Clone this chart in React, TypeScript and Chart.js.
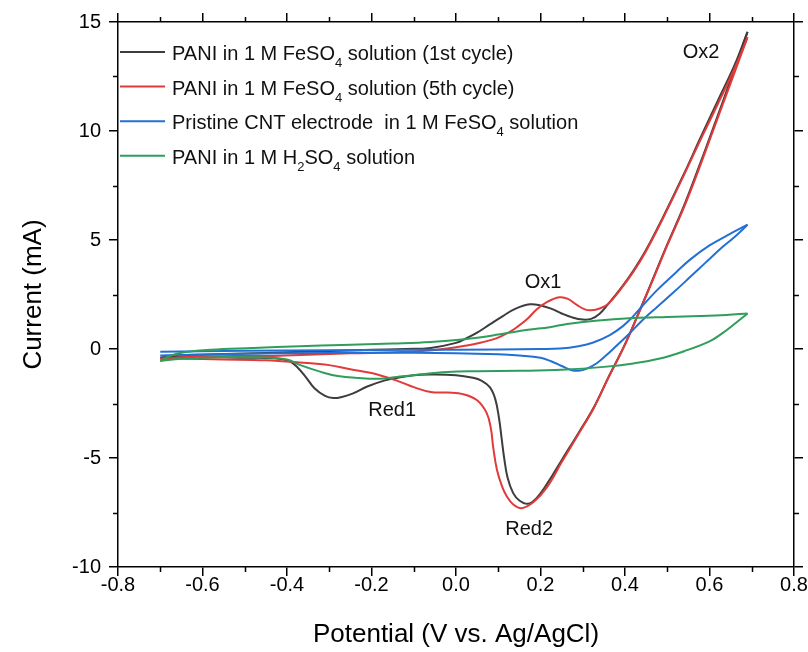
import React, { useEffect, useRef } from 'react';
import { Chart, registerables } from 'chart.js';

Chart.register(...registerables);

// ---------- data ----------
const xTickValues = [-0.8, -0.6, -0.4, -0.2, 0.0, 0.2, 0.4, 0.6, 0.8];
const yTickValues = [-10, -5, 0, 5, 10, 15];
const xMinorTicks = [-0.7, -0.5, -0.3, -0.1, 0.1, 0.3, 0.5, 0.7];
const yMinorTicks = [-7.5, -2.5, 2.5, 7.5, 12.5];

// PANI in FeSO4, 1st cycle (black)
const pani1Forward: [number, number][] = [
  [-0.70, -0.40], [-0.65, -0.30], [-0.60, -0.26], [-0.50, -0.21], [-0.40, -0.15],
  [-0.30, -0.09], [-0.20, -0.04], [-0.12, 0.0], [-0.06, 0.05], [0.0, 0.28],
  [0.025, 0.50], [0.05, 0.75], [0.08, 1.13], [0.11, 1.50], [0.14, 1.84],
  [0.175, 2.05], [0.20, 2.0], [0.225, 1.85], [0.25, 1.63], [0.275, 1.45],
  [0.30, 1.35], [0.32, 1.38], [0.34, 1.62], [0.36, 2.06], [0.39, 2.78],
  [0.42, 3.6], [0.45, 4.55], [0.49, 6.05], [0.54, 8.05], [0.58, 9.75],
  [0.62, 11.4], [0.66, 13.05], [0.69, 14.55],
];
const pani1Reverse: [number, number][] = [
  [0.69, 14.55], [0.65, 12.35], [0.61, 10.2], [0.57, 8.1], [0.537, 6.45],
  [0.50, 4.8], [0.47, 3.4], [0.435, 1.78], [0.40, 0.22], [0.36, -1.33],
  [0.325, -2.72], [0.29, -3.85], [0.25, -5.1], [0.215, -6.2], [0.19, -6.85],
  [0.17, -7.1], [0.15, -6.95], [0.135, -6.6], [0.122, -5.9], [0.114, -5.0],
  [0.108, -4.1], [0.102, -3.2], [0.093, -2.3], [0.08, -1.75], [0.06, -1.45],
  [0.04, -1.32], [0.0, -1.2], [-0.06, -1.17], [-0.10, -1.2], [-0.14, -1.33],
  [-0.17, -1.45], [-0.21, -1.72], [-0.245, -2.05], [-0.27, -2.2], [-0.29, -2.25],
  [-0.31, -2.15], [-0.335, -1.8], [-0.355, -1.3], [-0.375, -0.85], [-0.395, -0.55],
  [-0.43, -0.42], [-0.50, -0.40], [-0.60, -0.37], [-0.70, -0.40],
];

// PANI in FeSO4, 5th cycle (red)
const pani5Forward: [number, number][] = [
  [-0.70, -0.45], [-0.65, -0.38], [-0.60, -0.34], [-0.50, -0.32], [-0.447, -0.32],
  [-0.35, -0.26], [-0.25, -0.2], [-0.13, -0.14], [-0.05, -0.05], [0.026, 0.16],
  [0.06, 0.30], [0.097, 0.50], [0.125, 0.76], [0.144, 1.0], [0.17, 1.4],
  [0.19, 1.8], [0.215, 2.15], [0.245, 2.37], [0.265, 2.3], [0.286, 2.02],
  [0.305, 1.82], [0.32, 1.78], [0.34, 1.86], [0.36, 2.06], [0.39, 2.75],
  [0.42, 3.55], [0.45, 4.5], [0.49, 6.0], [0.54, 8.0], [0.58, 9.65],
  [0.62, 11.25], [0.66, 12.9], [0.69, 14.3],
];
const pani5Reverse: [number, number][] = [
  [0.69, 14.3], [0.65, 12.2], [0.61, 10.1], [0.57, 8.0], [0.537, 6.38],
  [0.50, 4.75], [0.47, 3.35], [0.435, 1.75], [0.40, 0.2], [0.36, -1.35],
  [0.325, -2.75], [0.29, -3.9], [0.25, -5.2], [0.215, -6.35], [0.185, -7.0],
  [0.156, -7.3], [0.135, -7.12], [0.12, -6.75], [0.109, -6.3], [0.097, -5.55],
  [0.088, -4.5], [0.083, -3.7], [0.073, -2.95], [0.05, -2.35], [0.017, -2.07],
  [-0.02, -2.0], [-0.06, -1.97], [-0.10, -1.75], [-0.14, -1.45], [-0.20, -1.1],
  [-0.25, -0.93], [-0.30, -0.74], [-0.37, -0.62], [-0.45, -0.52], [-0.55, -0.48],
  [-0.65, -0.45], [-0.70, -0.45],
];

// Pristine CNT in FeSO4 (blue)
const cntForward: [number, number][] = [
  [-0.70, -0.13], [-0.60, -0.1], [-0.50, -0.08], [-0.30, -0.06], [-0.10, -0.04],
  [0.10, -0.02], [0.20, 0.0], [0.246, 0.02], [0.29, 0.13], [0.325, 0.3],
  [0.364, 0.64], [0.395, 1.05], [0.417, 1.45], [0.44, 1.95], [0.476, 2.7],
  [0.52, 3.5], [0.554, 4.1], [0.60, 4.75], [0.641, 5.2], [0.69, 5.7],
];
const cntReverse: [number, number][] = [
  [0.69, 5.7], [0.66, 5.15], [0.632, 4.7], [0.59, 3.95], [0.554, 3.3],
  [0.515, 2.6], [0.476, 1.93], [0.44, 1.3], [0.41, 0.7], [0.38, 0.15],
  [0.355, -0.3], [0.334, -0.64], [0.31, -0.9], [0.29, -1.0], [0.272, -0.96],
  [0.25, -0.78], [0.225, -0.56], [0.20, -0.4], [0.15, -0.3], [0.10, -0.24],
  [0.0, -0.19], [-0.2, -0.17], [-0.4, -0.2], [-0.6, -0.25], [-0.70, -0.3],
];

// PANI in H2SO4 (green)
const h2so4Forward: [number, number][] = [
  [-0.70, -0.55], [-0.675, -0.3], [-0.64, -0.14], [-0.58, -0.03], [-0.48, 0.05],
  [-0.37, 0.13], [-0.27, 0.18], [-0.15, 0.25], [-0.06, 0.32], [0.02, 0.45],
  [0.10, 0.66], [0.17, 0.88], [0.222, 1.0], [0.263, 1.15], [0.33, 1.3],
  [0.419, 1.42], [0.50, 1.47], [0.578, 1.51], [0.64, 1.56], [0.69, 1.63],
];
const h2so4Reverse: [number, number][] = [
  [0.69, 1.63], [0.656, 1.1], [0.63, 0.72], [0.60, 0.35], [0.54, -0.1],
  [0.48, -0.45], [0.42, -0.66], [0.35, -0.82], [0.25, -0.95], [0.15, -1.0],
  [0.05, -1.02], [-0.02, -1.06], [-0.10, -1.2], [-0.14, -1.28], [-0.18, -1.36],
  [-0.23, -1.33], [-0.28, -1.24], [-0.32, -1.05], [-0.37, -0.73], [-0.40, -0.48],
  [-0.47, -0.38], [-0.55, -0.37], [-0.65, -0.45], [-0.70, -0.55],
];

type Seg = { t: string; sub?: boolean };
const seriesLabels: Seg[][] = [
  [{ t: 'PANI in 1 M FeSO' }, { t: '4', sub: true }, { t: ' solution (1st cycle)' }],
  [{ t: 'PANI in 1 M FeSO' }, { t: '4', sub: true }, { t: ' solution (5th cycle)' }],
  [{ t: 'Pristine CNT electrode  in 1 M FeSO' }, { t: '4', sub: true }, { t: ' solution' }],
  [{ t: 'PANI in 1 M H' }, { t: '2', sub: true }, { t: 'SO' }, { t: '4', sub: true }, { t: ' solution' }],
];
const seriesColors = ['#3d3d3d', '#e23a3a', '#2370d4', '#2f9e5c'];

const peakLabels = ['Ox2', 'Ox1', 'Red1', 'Red2'];
const peakLabelAnchors: [number, number][] = [
  [0.58, 13.62], [0.206, 3.07], [-0.151, -2.8], [0.173, -8.26],
];

const xTitle = 'Potential (V vs. Ag/AgCl)';
const yTitle = 'Current (mA)';

// ---------- styling ----------
const FONT = '"Liberation Sans", Arial, Helvetica, sans-serif';

const toPoints = (arr: [number, number][]) => arr.map(([x, y]) => ({ x, y }));

const extrasPlugin = {
  id: 'extras',
  afterDraw(chart: any) {
    const ctx = chart.ctx as CanvasRenderingContext2D;
    const xs = chart.scales.x;
    const ys = chart.scales.y;
    const area = chart.chartArea;
    ctx.save();
    // minor ticks
    ctx.strokeStyle = '#000';
    ctx.lineWidth = 1.5;
    const minorLen = 5;
    ctx.beginPath();
    for (const v of xMinorTicks) {
      const px = Math.round(xs.getPixelForValue(v)) + 0.5;
      ctx.moveTo(px, area.bottom);
      ctx.lineTo(px, area.bottom + minorLen);
      ctx.moveTo(px, area.top);
      ctx.lineTo(px, area.top - minorLen);
    }
    for (const v of yMinorTicks) {
      const py = Math.round(ys.getPixelForValue(v)) + 0.5;
      ctx.moveTo(area.left, py);
      ctx.lineTo(area.left - minorLen, py);
      ctx.moveTo(area.right, py);
      ctx.lineTo(area.right + minorLen, py);
    }
    ctx.stroke();

    // peak labels
    ctx.fillStyle = '#111';
    ctx.font = `20px ${FONT}`;
    ctx.textAlign = 'center';
    ctx.textBaseline = 'middle';
    peakLabels.forEach((lab, i) => {
      const [vx, vy] = peakLabelAnchors[i];
      ctx.fillText(lab, xs.getPixelForValue(vx), ys.getPixelForValue(vy));
    });

    // legend
    const lineX0 = area.left + 2;
    const lineX1 = area.left + 47;
    const textX = area.left + 54;
    const baseline0 = area.top + 38;
    const rowGap = 34.6;
    ctx.textAlign = 'left';
    ctx.textBaseline = 'alphabetic';
    seriesLabels.forEach((segs, i) => {
      const by = baseline0 + i * rowGap;
      ctx.strokeStyle = seriesColors[i];
      ctx.lineWidth = 2;
      ctx.beginPath();
      ctx.moveTo(lineX0, by - 8);
      ctx.lineTo(lineX1, by - 8);
      ctx.stroke();
      let x = textX;
      ctx.fillStyle = '#111';
      for (const s of segs) {
        if (s.sub) {
          ctx.font = `13px ${FONT}`;
          ctx.fillText(s.t, x, by + 7);
        } else {
          ctx.font = `20px ${FONT}`;
          ctx.fillText(s.t, x, by);
        }
        x += ctx.measureText(s.t).width;
      }
    });
    ctx.restore();
  },
};

export default function App() {
  const canvasRef = useRef<HTMLCanvasElement | null>(null);

  useEffect(() => {
    document.body.style.margin = '0';
    const canvas = canvasRef.current;
    if (!canvas) return;

    const makeLine = (data: [number, number][], idx: number, label: string) => ({
      label,
      data: toPoints(data),
      showLine: true,
      borderColor: seriesColors[idx],
      backgroundColor: seriesColors[idx],
      borderWidth: 2,
      pointRadius: 0,
      pointHoverRadius: 0,
      tension: 0.4,
      fill: false,
      order: 3 - idx,
    });

    const labelText = (segs: Seg[]) => segs.map((s) => s.t).join('');

    const datasets = [
      makeLine(pani1Forward, 0, labelText(seriesLabels[0])),
      makeLine(pani1Reverse, 0, ''),
      makeLine(pani5Forward, 1, labelText(seriesLabels[1])),
      makeLine(pani5Reverse, 1, ''),
      makeLine(cntForward, 2, labelText(seriesLabels[2])),
      makeLine(cntReverse, 2, ''),
      makeLine(h2so4Forward, 3, labelText(seriesLabels[3])),
      makeLine(h2so4Reverse, 3, ''),
    ];

    const gridOpts = {
      display: true,
      drawOnChartArea: false,
      drawTicks: true,
      tickLength: 9,
      tickWidth: 1.5,
      lineWidth: 1.5,
      color: '#000',
      tickColor: '#000',
    };
    const borderOpts = { display: true, color: '#000', width: 1.5 };

    const chart = new Chart(canvas, {
      type: 'scatter',
      data: { datasets: datasets as any },
      options: {
        animation: false,
        responsive: false,
        devicePixelRatio: 1,
        layout: { padding: 0 },
        plugins: {
          legend: { display: false },
          tooltip: { enabled: false },
          title: { display: false },
        },
        scales: {
          x: {
            type: 'linear',
            position: 'bottom',
            min: xTickValues[0],
            max: xTickValues[xTickValues.length - 1],
            grid: gridOpts as any,
            border: borderOpts as any,
            afterBuildTicks: (scale: any) => {
              scale.ticks = xTickValues.map((v) => ({ value: v }));
            },
            afterFit: (scale: any) => {
              scale.height = 85;
            },
            ticks: {
              color: '#000',
              font: { family: FONT, size: 20 },
              padding: -3,
              maxRotation: 0,
              autoSkip: false,
              callback: (v: any) => (Math.abs(+v) < 1e-9 ? 0 : +v).toFixed(1),
            },
            title: {
              display: true,
              text: xTitle,
              color: '#000',
              font: { family: FONT, size: 26 },
              padding: { top: 0, bottom: 2 },
            },
          },
          x2: {
            type: 'linear',
            position: 'top',
            display: true,
            min: xTickValues[0],
            max: xTickValues[xTickValues.length - 1],
            grid: gridOpts as any,
            border: borderOpts as any,
            afterBuildTicks: (scale: any) => {
              scale.ticks = xTickValues.map((v) => ({ value: v }));
            },
            afterFit: (scale: any) => {
              scale.height = 22;
            },
            ticks: { display: false },
          },
          y: {
            type: 'linear',
            position: 'left',
            min: yTickValues[0],
            max: yTickValues[yTickValues.length - 1],
            grid: gridOpts as any,
            border: borderOpts as any,
            afterBuildTicks: (scale: any) => {
              scale.ticks = yTickValues.map((v) => ({ value: v }));
            },
            afterFit: (scale: any) => {
              scale.width = 118;
            },
            ticks: {
              color: '#000',
              font: { family: FONT, size: 20 },
              padding: 8,
              callback: (v: any) => String(v),
            },
            title: {
              display: true,
              text: yTitle,
              color: '#000',
              font: { family: FONT, size: 26 },
              padding: { top: 18, bottom: 0 },
            },
          },
          y2: {
            type: 'linear',
            position: 'right',
            display: true,
            min: yTickValues[0],
            max: yTickValues[yTickValues.length - 1],
            grid: gridOpts as any,
            border: borderOpts as any,
            afterBuildTicks: (scale: any) => {
              scale.ticks = yTickValues.map((v) => ({ value: v }));
            },
            afterFit: (scale: any) => {
              scale.width = 14;
            },
            ticks: { display: false },
          },
        },
      },
      plugins: [extrasPlugin],
    });

    return () => {
      chart.destroy();
    };
  }, []);

  return (
    <div style={{ position: 'absolute', left: 0, top: 0, width: 808, height: 652, background: '#fff' }}>
      <canvas ref={canvasRef} width={808} height={652} style={{ display: 'block' }} />
    </div>
  );
}
